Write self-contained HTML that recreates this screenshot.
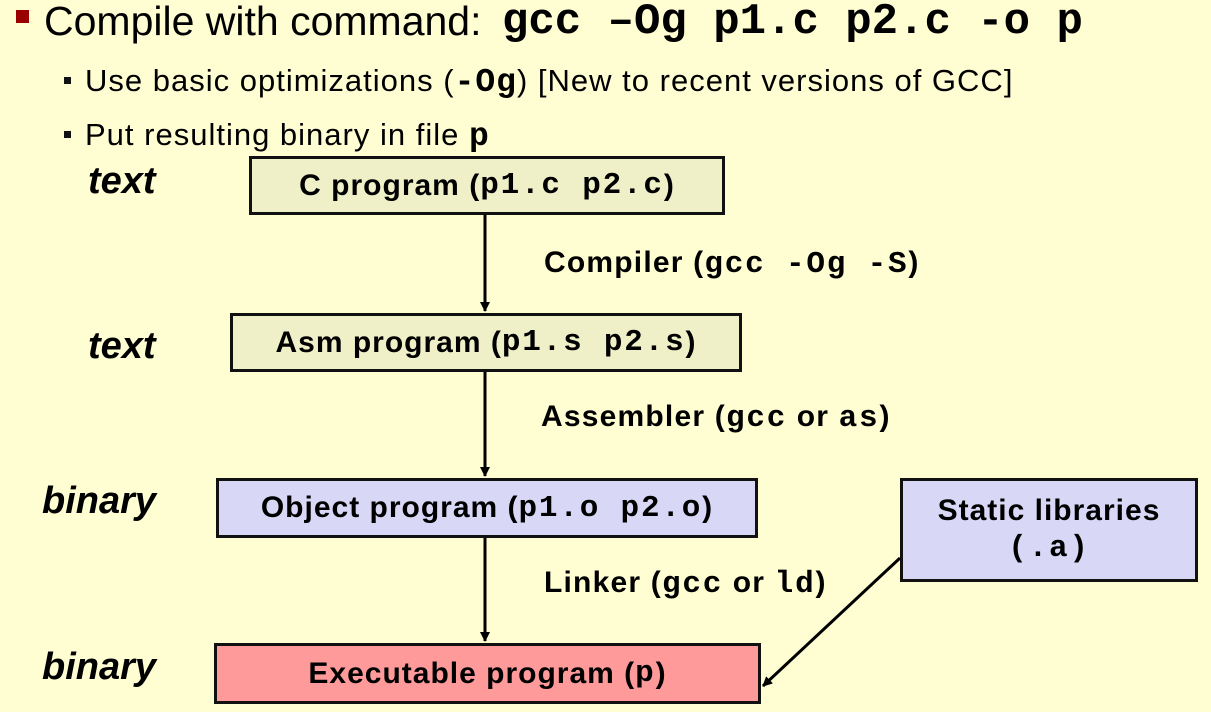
<!DOCTYPE html>
<html><head><meta charset="utf-8"><style>
html,body{margin:0;padding:0}
body{width:1211px;height:712px;background:#fffdd2;position:relative;overflow:hidden;font-family:"Liberation Sans",sans-serif;color:#000}
.a{position:absolute;white-space:nowrap}
.m{font-family:"Liberation Mono",monospace;font-weight:bold}
.box{position:absolute;border:3px solid #111;box-sizing:border-box;display:flex;align-items:center;justify-content:center;font-weight:bold;font-size:30px;letter-spacing:1px;white-space:nowrap}
.box .m,.lab .m{font-size:31px;letter-spacing:1.8px}
.lab{position:absolute;font-weight:bold;font-size:30px;letter-spacing:1.2px;white-space:nowrap}
.side{position:absolute;font-weight:bold;font-style:italic;font-size:38px}
</style></head><body>
<div class="a" style="left:16px;top:10px;width:13px;height:13px;background:#990000"></div>
<div class="a" style="left:44px;top:-2px;font-size:41px;line-height:46px">Compile with command:</div>
<div class="a m" style="left:502px;top:-1px;font-size:44px;line-height:46px">gcc –Og p1.c p2.c -o p</div>
<div class="a" style="left:64px;top:77px;width:7px;height:7px;background:#111"></div>
<div class="a" style="left:85px;top:62px;font-size:31px;line-height:38px;letter-spacing:1px">Use basic optimizations (<span class="m" style="font-size:33px">-Og</span>) [New to recent versions of GCC]</div>
<div class="a" style="left:64px;top:131px;width:7px;height:7px;background:#111"></div>
<div class="a" style="left:85px;top:116px;font-size:31px;line-height:38px;letter-spacing:1px">Put resulting binary in file <span class="m" style="font-size:33px">p</span></div>

<div class="side" style="left:88px;top:160px">text</div>
<div class="side" style="left:88px;top:325px">text</div>
<div class="side" style="left:42px;top:480px">binary</div>
<div class="side" style="left:42px;top:646px">binary</div>

<div class="box" style="left:249px;top:156px;width:476px;height:59px;background:#efefc8">C program (<span class="m">p1.c p2.c</span>)</div>
<div class="box" style="left:230px;top:313px;width:512px;height:59px;background:#efefc8">Asm program (<span class="m">p1.s p2.s</span>)</div>
<div class="box" style="left:216px;top:478px;width:542px;height:60px;background:#d8d8f6">Object program (<span class="m">p1.o p2.o</span>)</div>
<div class="box" style="left:214px;top:643px;width:547px;height:61px;background:#ff9a9a">Executable program (<span class="m">p</span>)</div>
<div class="box" style="left:900px;top:478px;width:298px;height:104px;background:#d8d8f6;flex-direction:column;line-height:38px">Static libraries<span class="m">(.a)</span></div>

<div class="lab" style="left:544px;top:246px">Compiler (<span class="m">gcc -Og -S</span>)</div>
<div class="lab" style="left:541px;top:400px">Assembler (<span class="m">gcc</span> or <span class="m">as</span>)</div>
<div class="lab" style="left:544px;top:566px">Linker (<span class="m">gcc</span> or <span class="m">ld</span>)</div>

<svg class="a" style="left:0;top:0" width="1211" height="712">
<defs><marker id="ar" markerWidth="10" markerHeight="10" refX="9" refY="5" orient="auto" markerUnits="userSpaceOnUse"><path d="M0,0 L10,5 L0,10 z" fill="#000"/></marker></defs>
<g stroke="#000" stroke-width="3">
<line x1="485" y1="215" x2="485" y2="311" marker-end="url(#ar)"/>
<line x1="485" y1="372" x2="485" y2="476" marker-end="url(#ar)"/>
<line x1="485" y1="538" x2="485" y2="641" marker-end="url(#ar)"/>
<line x1="900" y1="558" x2="763" y2="686" marker-end="url(#ar)"/>
</g></svg>
</body></html>
